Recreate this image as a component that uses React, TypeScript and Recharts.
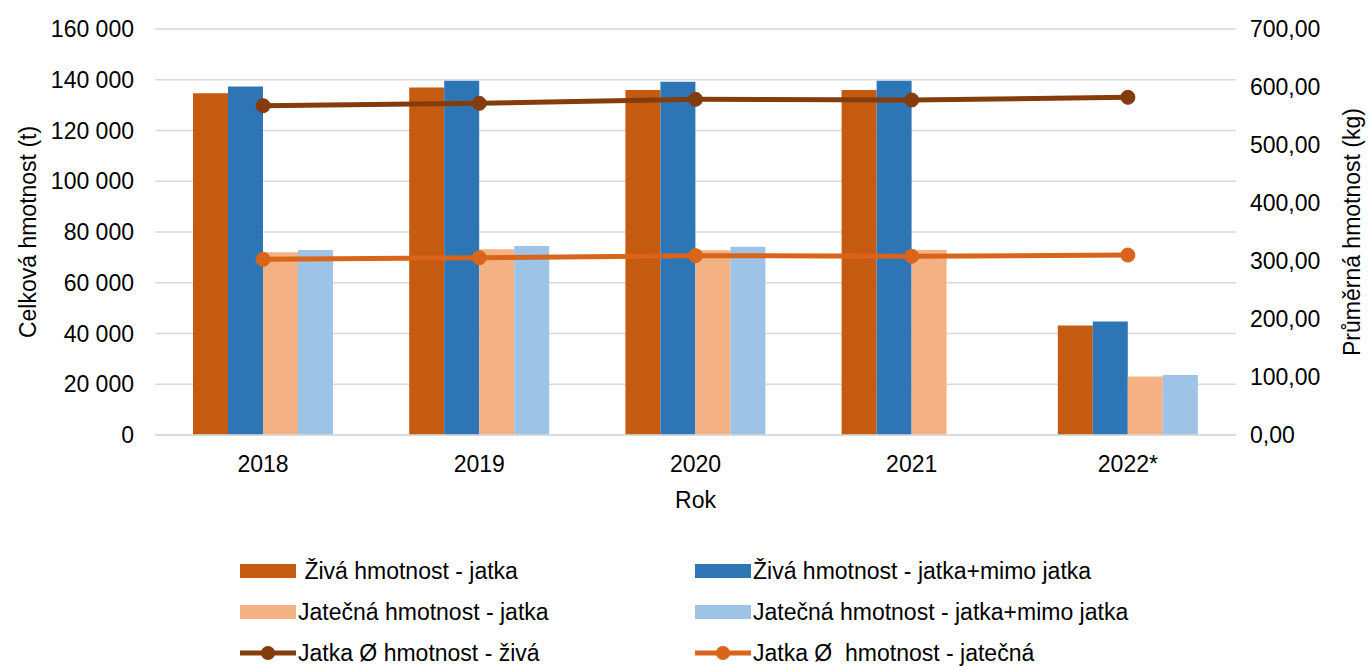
import React from "react";
import {
  ComposedChart,
  Bar,
  Line,
  XAxis,
  YAxis,
  CartesianGrid,
  Label,
} from "recharts";

const years = ["2018", "2019", "2020", "2021", "2022*"];

// celková hmotnost (t)
const zivaJatka = [134700, 136900, 136000, 136000, 43200];
const zivaJatkaMimo = [137300, 139600, 139200, 139600, 44700];
const jatecnaJatka = [72000, 73200, 72800, 72900, 23100];
const jatecnaJatkaMimo = [72900, 74500, 74200, null, 23600];

// průměrná hmotnost (kg)
const prumerZiva = [567.8, 571.8, 578.7, 577.6, 582.2];
const prumerJatecna = [302.9, 305.7, 309.2, 308.1, 310.3];

const leftTicks = [0, 20000, 40000, 60000, 80000, 100000, 120000, 140000, 160000];
const rightTicks = [0, 100, 200, 300, 400, 500, 600, 700];

const data = years.map((rok, i) => ({
  rok,
  zivaJatka: zivaJatka[i],
  zivaJatkaMimo: zivaJatkaMimo[i],
  jatecnaJatka: jatecnaJatka[i],
  jatecnaJatkaMimo: jatecnaJatkaMimo[i],
  prumerZiva: prumerZiva[i],
  prumerJatecna: prumerJatecna[i],
}));

const FONT = "'Liberation Sans', Arial, sans-serif";
const FS = 23;
const C_ORANGE = "#C55A11";
const C_BLUE = "#2E75B6";
const C_LORANGE = "#F4B183";
const C_LBLUE = "#9DC3E6";
const C_BROWN = "#843C0C";
const C_LINE_ORANGE = "#D9651A";

const fmtLeft = (v: number) => v.toLocaleString("en-US").replace(/,/g, " ");
const fmtRight = (v: number) => v.toFixed(2).replace(".", ",");

const tickStyle = { fill: "#000", fontSize: FS, fontFamily: FONT };
const titleStyle = { fill: "#000", fontSize: FS, fontFamily: FONT, textAnchor: "middle" as const };

const legendItems = [
  { name: " Živá hmotnost - jatka", color: C_ORANGE, type: "bar" },
  { name: "Živá hmotnost - jatka+mimo jatka", color: C_BLUE, type: "bar" },
  { name: "Jatečná hmotnost - jatka", color: C_LORANGE, type: "bar" },
  { name: "Jatečná hmotnost - jatka+mimo jatka", color: C_LBLUE, type: "bar" },
  { name: "Jatka Ø hmotnost - živá", color: C_BROWN, type: "line" },
  { name: "Jatka Ø  hmotnost - jatečná", color: C_LINE_ORANGE, type: "line" },
];

const LegendIcon = ({ color, type }: any) => (
  <svg width={56} height={18} style={{ display: "block" }}>
    {type === "bar" ? (
      <rect x={0} y={2} width={56} height={14} fill={color} />
    ) : (
      <>
        <line x1={0} y1={9} x2={56} y2={9} stroke={color} strokeWidth={5} />
        <circle cx={28} cy={9} r={7} fill={color} />
      </>
    )}
  </svg>
);

const App = () => {
  return (
    <div style={{ position: "absolute", left: 0, top: 0, width: 1370, height: 666, background: "#fff" }}>
      <ComposedChart
        width={1370}
        height={666}
        data={data}
        margin={{ top: 29, right: 0, left: 0, bottom: 151 }}
        barGap={0}
        barSize={35}
      >
        <CartesianGrid vertical={false} stroke="#d9d9d9" strokeWidth={1.5} yAxisId="left" />
        <XAxis
          dataKey="rok"
          height={80}
          tickLine={false}
          tickSize={0}
          tickMargin={21}
          axisLine={{ stroke: "#d9d9d9", strokeWidth: 1.5 }}
          tick={tickStyle}
        >
          <Label value="Rok" position="insideBottom" offset={7} style={titleStyle} />
        </XAxis>
        <YAxis
          yAxisId="left"
          width={155}
          domain={[0, 160000]}
          ticks={leftTicks}
          tickFormatter={fmtLeft}
          axisLine={false}
          tickLine={false}
          tickSize={0}
          tickMargin={21}
          tick={tickStyle}
        >
          <Label value="Celková hmotnost (t)" angle={-90} position="center" dx={-50} style={titleStyle} />
        </YAxis>
        <YAxis
          yAxisId="right"
          orientation="right"
          width={134}
          domain={[0, 700]}
          ticks={rightTicks}
          tickFormatter={fmtRight}
          axisLine={false}
          tickLine={false}
          tickSize={0}
          tickMargin={14}
          tick={tickStyle}
        >
          <Label value="Průměrná hmotnost (kg)" angle={-90} position="center" dx={49} style={titleStyle} />
        </YAxis>
        <Bar yAxisId="left" dataKey="zivaJatka" fill={C_ORANGE} isAnimationActive={false} />
        <Bar yAxisId="left" dataKey="zivaJatkaMimo" fill={C_BLUE} isAnimationActive={false} />
        <Bar yAxisId="left" dataKey="jatecnaJatka" fill={C_LORANGE} isAnimationActive={false} />
        <Bar yAxisId="left" dataKey="jatecnaJatkaMimo" fill={C_LBLUE} isAnimationActive={false} />
        <Line
          yAxisId="right"
          dataKey="prumerZiva"
          stroke={C_BROWN}
          strokeWidth={5}
          dot={{ r: 7, fill: C_BROWN, stroke: C_BROWN, strokeWidth: 1 }}
          activeDot={false}
          isAnimationActive={false}
        />
        <Line
          yAxisId="right"
          dataKey="prumerJatecna"
          stroke={C_LINE_ORANGE}
          strokeWidth={5}
          dot={{ r: 7, fill: C_LINE_ORANGE, stroke: C_LINE_ORANGE, strokeWidth: 1 }}
          activeDot={false}
          isAnimationActive={false}
        />
      </ComposedChart>
      <div
        style={{
          position: "absolute",
          left: 240,
          top: 562,
          display: "grid",
          gridTemplateColumns: "455px 520px",
          rowGap: 23,
          fontFamily: FONT,
          fontSize: FS,
          color: "#000",
        }}
      >
        {legendItems.map((it) => (
          <div key={it.name} style={{ display: "flex", alignItems: "center", height: 18, whiteSpace: "pre" }}>
            <LegendIcon color={it.color} type={it.type} />
            <span style={{ marginLeft: 2 }}>{it.name}</span>
          </div>
        ))}
      </div>
    </div>
  );
};

export default App;
